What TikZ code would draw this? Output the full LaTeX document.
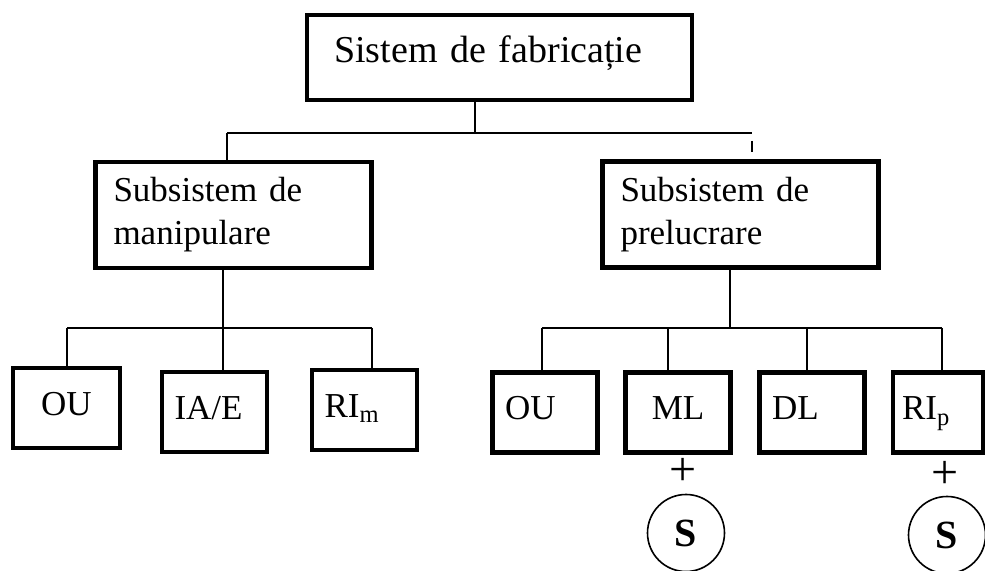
\documentclass[tikz,border=0pt]{standalone}
\usepackage{fontspec}
\setmainfont{Liberation Serif}

\begin{document}
\begin{tikzpicture}
[x=0.5pt,y=-0.5pt,
box/.style = {draw, line width=2.2pt, inner ysep=0pt, align=left},
mid/.style = {box, inner xsep=9pt, text width=120pt, minimum height=53pt, font=\fontsize{17.5}{21.5}\selectfont},
leaf/.style = {box, text width=40pt, minimum width=52.5pt, minimum height=40pt, text height=12.5pt, text depth=5pt, font=\fontsize{17.5}{21}\selectfont},
link/.style = {line width=0.8pt},
plus/.style = {font=\fontsize{24}{28}\selectfont},
sym/.style = {draw, circle, line width=0.8pt, minimum size=38.5pt, inner sep=0pt, font=\fontsize{20}{24}\selectfont\bfseries},]
\useasboundingbox (0,0) rectangle (985,571);
\node (fab) at (305,13)[box, anchor=north west, inner xsep=13.5pt, text width=165.5pt, text height=23.5pt, text depth=19pt, font=\fontsize{19}{23}\selectfont] {Sistem de fabricație};
\node (man) at (233.5,215)[mid] {Subsistem de\\manipulare};
\node (prel) at (740.5,214.5)[mid] {Subsistem de\\prelucrare};
\node (ouM) at (66.5,408)[leaf, align=center, minimum width=53.5pt] {OU};
\node (ia) at (214.5,412)[leaf] {IA/E};
\node (rim) at (364.5,410)[leaf] {RI\textsubscript{m}};
\node (ouP) at (545,412.5)[leaf] {OU};
\node (ml) at (678,412.5)[leaf, align=center] {ML};
\node (dl) at (812,412.5)[leaf] {DL};
\node (rip) at (938,412.5)[leaf, text width=36pt, minimum width=45pt] {RI\textsubscript{p}};
\node (plusML) at (683,472)[plus] {+};
\node (sML) at (686,533)[sym] {S};
\node (plusRI) at (945,475)[plus] {+};
\node (sRI) at (947,535)[sym] {S};
% top level
\coordinate (hubF) at (475,133);
\coordinate (endL) at (227,133);
\coordinate (endR) at (752,133);
\coordinate (tickA) at (752,141);
\coordinate (tickB) at (752,152);
\draw[link] (fab.south -| hubF)--(hubF);
\draw[link] (endL)--(endR);
\draw[link] (endL)--(endL |- man.north);
\draw[link] (tickA)--(tickB);
% manipulare
\coordinate (hubM) at (223,328);
\coordinate (barMl) at (67,328);
\coordinate (barMr) at (372,328);
\draw[link] (man.south -| hubM)--(hubM);
\draw[link] (barMl)--(barMr);
\foreach \c/\n in {barMl/ouM, hubM/ia, barMr/rim}
  \draw[link] (\c)--(\c |- \n.north);
% prelucrare
\coordinate (hubP) at (730,328);
\coordinate (barPl) at (542,328);
\coordinate (barPr) at (942,328);
\coordinate (dropML) at (668,328);
\coordinate (dropDL) at (807,328);
\draw[link] (prel.south -| hubP)--(hubP);
\draw[link] (barPl)--(barPr);
\foreach \c/\n in {barPl/ouP, dropML/ml, dropDL/dl, barPr/rip}
  \draw[link] (\c)--(\c |- \n.north);
\end{tikzpicture}
\end{document}
